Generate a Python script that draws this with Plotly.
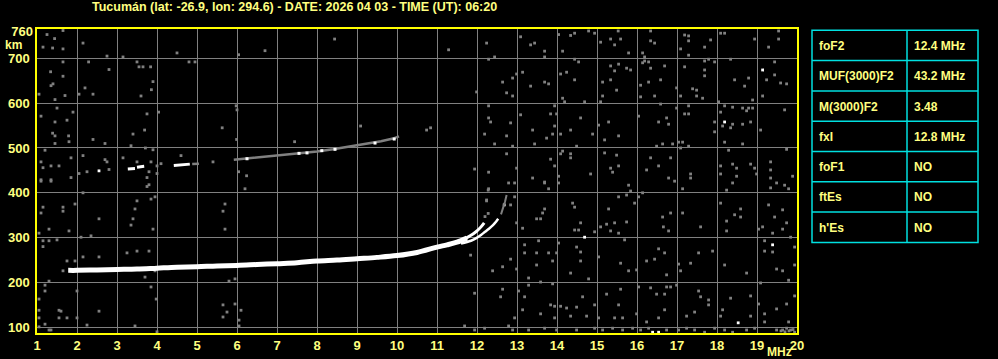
import plotly.graph_objects as go

# ---------------- data ----------------
title_text = "Tucumán (lat: -26.9, lon: 294.6) - DATE: 2026 04 03 - TIME (UT): 06:20"
x_ticks = list(range(1, 21))
y_ticks = [100, 200, 300, 400, 500, 600, 700]
y_top_tick = [760]
x_range = [1, 20]
y_range = [87.3, 765.4]

# F2 ordinary trace (MHz, km)
o_freq = [1.78, 2.0, 2.5, 3.0, 3.5, 4.0, 4.5, 5.0, 5.5, 6.0, 6.5, 7.0, 7.5, 8.0,
          8.5, 9.0, 9.5, 10.0, 10.5, 11.0, 11.25, 11.5, 11.75]
o_h = [227, 227, 228, 229, 230, 232, 234, 235, 237, 238, 240, 242, 244, 248,
       250, 253, 256, 260, 267, 279, 284, 290, 299]
o_cusp_freq = [11.6, 11.75, 11.9, 12.0, 12.1, 12.18]
o_cusp_h = [294, 300, 308, 315, 324, 333]
# F2 extraordinary trace
x_freq = [11.6, 11.85, 12.0, 12.1, 12.2, 12.3, 12.4, 12.48, 12.53]
x_h = [287, 293, 300, 306, 313, 320, 328, 336, 342]
x_tail_freq = [12.6, 12.65, 12.7, 12.74]
x_tail_h = [352, 365, 380, 395]

# second hop (2F) trace
f2_white_freq = [3.27, 3.45, None, 3.5, 3.68, None, 4.42, 4.82]
f2_white_h = [453, 454, None, 457, 459, None, 461, 464]
f2_grey_freq = [4.88, 5.05, None, 5.92, 6.3, 6.8, 7.2, 7.6, 8.0, 8.4, 8.8, 9.2, 9.6, 9.9, 10.05]
f2_grey_h = [464, 465, None, 474, 477, 481, 484, 488, 492, 497, 503, 508, 515, 521, 526]
f2_spot_freq = [6.25, 7.55, 7.75, 8.12, 8.45, 9.45, 9.93]
f2_spot_h = [476, 488, 489, 494, 497, 511, 520]

# scattered noise (MHz, km)
noise_points = [
    (1.25, 753), (1.65, 762), (1.44, 744), (1.15, 725), (1.39, 723), (1.65, 721), (2.15, 734),
    (2.75, 705), (3.15, 703), (4.5, 712), (6.04, 708), (6.7, 717), (8.44, 743),
    (1.65, 692), (2.29, 692), (3.5, 692), (3.55, 681), (3.65, 681), (3.84, 681), (4.8, 692),
    (4.95, 692), (2.8, 675), (1.34, 670), (1.65, 660), (1.4, 643), (1.35, 639), (2.2, 634),
    (3.9, 648), (3.86, 630), (1.7, 617), (1.05, 620), (2.05, 620), (2.4, 620), (3.6, 616),
    (1.45, 608), (5.98, 594), (6.0, 585), (1.5, 589), (1.9, 580), (1.1, 571), (3.75, 576),
    (4.04, 580), (1.75, 562), (1.45, 558), (1.39, 533), (1.45, 527), (1.79, 527), (3.4, 531),
    (3.69, 540), (5.63, 545), (2.4, 519), (1.8, 514), (2.7, 510), (1.45, 510), (3.35, 505),
    (5.99, 519), (7.44, 514), (9.09, 549), (1.2, 495), (3.71, 500), (3.9, 496), (2.15, 483),
    (1.85, 478), (2.7, 474), (2.75, 469), (3.15, 478), (1.1, 469), (1.35, 460), (1.55, 460),
    (1.15, 456), (2.8, 452), (2.05, 443), (2.25, 447), (3.8, 447), (3.5, 469), (3.85, 469),
    (4.0, 460), (4.0, 443), (4.1, 465), (4.6, 483), (5.4, 469), (6.04, 447), (6.24, 438),
    (1.85, 434), (1.1, 429), (1.35, 429), (3.75, 434),
    (11.29, 719), (12.24, 734), (12.29, 698), (12.44, 703), (13.09, 748), (13.34, 730),
    (13.44, 734), (13.69, 716), (13.69, 703), (14.04, 753), (14.14, 716), (14.34, 751),
    (14.44, 756), (14.79, 761), (14.94, 756), (15.09, 736), (15.34, 743), (15.44, 730),
    (15.59, 743), (15.79, 712), (15.53, 761), (16.34, 761), (16.14, 712), (16.19, 703),
    (16.34, 739), (16.44, 734), (17.19, 752), (17.29, 750), (17.29, 739), (17.09, 721),
    (17.29, 707), (17.69, 725), (17.84, 741), (18.09, 756), (18.19, 756), (18.94, 743),
    (19.29, 725), (19.54, 761), (19.54, 743),
    (12.64, 647), (12.74, 623), (12.89, 656), (12.89, 616), (12.99, 665), (13.14, 669),
    (13.34, 638), (13.69, 647), (13.79, 643), (14.09, 665), (14.24, 669), (14.44, 698),
    (14.54, 692), (14.44, 652), (14.14, 611), (14.19, 603), (14.69, 603), (15.09, 603),
    (15.14, 647), (15.14, 616), (15.34, 683), (15.34, 652), (15.44, 672), (15.49, 629),
    (15.54, 687), (15.74, 678), (15.84, 674), (16.14, 690), (16.19, 694), (16.29, 692),
    (16.34, 678), (16.09, 640), (16.09, 614), (16.29, 647), (16.44, 616), (16.59, 652),
    (16.69, 683), (16.99, 634), (17.09, 616), (17.19, 681), (17.39, 632), (17.49, 629),
    (17.49, 616), (17.64, 611), (17.69, 694), (17.69, 674), (17.69, 661), (17.79, 698),
    (17.94, 692), (18.34, 698), (18.44, 652), (18.69, 638), (18.79, 656), (18.89, 607),
    (19.24, 652), (19.14, 616), (19.44, 692), (19.44, 663), (19.59, 645), (19.74, 643),
    (10.74, 540), (10.84, 545), (11.99, 625), (12.29, 594), (12.29, 567), (12.34, 558),
    (12.19, 531), (12.44, 509), (12.74, 527), (12.84, 556), (12.89, 504), (13.09, 574),
    (13.39, 540), (13.44, 509), (13.74, 522), (13.84, 576), (13.89, 531), (13.94, 594),
    (13.94, 549), (13.99, 576), (14.09, 531), (14.34, 540), (14.59, 567), (14.89, 531),
    (15.04, 551), (15.19, 518), (15.29, 558), (15.54, 527), (16.04, 571), (16.54, 558),
    (16.59, 598), (16.74, 567), (16.79, 553), (16.89, 509), (16.64, 509), (16.49, 504),
    (16.99, 589), (17.04, 513), (17.14, 513), (17.29, 594), (17.19, 576), (17.29, 576),
    (17.29, 504), (17.09, 500), (17.94, 558), (17.94, 536), (18.04, 603), (18.09, 580),
    (18.19, 594), (18.14, 549), (18.34, 545), (18.39, 591), (18.39, 553), (18.64, 589),
    (18.64, 553), (18.74, 583), (18.79, 589), (18.84, 558), (18.89, 589), (19.09, 540),
    (19.69, 585), (18.19, 513), (18.64, 509),
    (11.94, 453), (12.29, 446), (12.74, 487), (12.99, 455), (13.39, 433), (13.69, 424),
    (13.84, 475), (13.94, 460), (14.04, 437), (14.09, 487), (14.14, 493), (14.34, 487),
    (14.34, 478), (14.49, 504), (14.84, 442), (15.19, 489), (15.34, 455), (15.39, 446),
    (15.49, 484), (15.54, 460), (16.24, 451), (16.34, 478), (16.54, 460), (16.79, 433),
    (16.84, 478), (17.34, 442), (17.34, 433), (18.09, 460), (18.09, 442), (18.29, 495),
    (18.39, 464), (18.49, 455), (18.49, 437), (18.84, 464), (18.94, 455), (18.99, 442),
    (19.34, 469), (19.34, 451), (19.34, 433), (19.74, 497), (19.89, 437),
    (1.1, 426), (1.35, 426), (3.75, 414), (3.8, 418), (2.15, 400), (3.95, 391), (3.85, 386),
    (3.5, 382), (1.15, 368), (1.65, 368), (1.65, 359), (1.95, 375), (1.1, 355), (3.45, 364),
    (2.55, 342), (3.4, 342), (3.35, 328), (3.9, 319), (1.3, 319), (1.8, 315), (2.35, 304),
    (2.1, 301), (1.05, 310), (5.7, 375), (5.65, 359), (5.7, 319), (6.2, 409),
    (1.15, 293), (1.3, 293), (1.5, 295), (1.15, 280), (3.25, 266), (3.5, 270), (3.8, 270),
    (2.15, 257), (2.55, 257), (1.75, 248), (1.95, 248), (1.65, 226), (3.7, 212), (3.95, 226),
    (1.3, 203), (5.8, 203), (5.95, 208),
    (1.2, 194), (1.2, 181), (3.85, 190), (2.0, 181), (1.05, 163), (3.98, 163), (5.65, 150),
    (5.95, 152), (6.1, 138), (5.75, 134), (5.65, 123), (6.05, 116), (6.05, 103), (2.55, 136),
    (1.55, 138), (1.6, 136), (1.55, 121), (1.75, 121), (2.0, 121), (1.05, 138), (1.05, 121),
    (1.2, 107), (1.05, 101), (2.25, 105), (3.45, 103), (1.3, 94), (1.35, 94), (4.0, 90),
    (12.79, 422), (12.94, 422), (13.69, 422), (14.04, 422), (15.79, 417), (16.94, 426),
    (17.14, 409), (18.39, 422), (18.24, 406), (19.49, 422), (19.34, 411), (19.69, 417),
    (19.79, 409), (13.79, 409), (12.29, 409), (12.94, 391), (12.84, 373), (12.24, 382),
    (15.54, 391), (15.74, 395), (15.84, 404), (16.04, 391), (16.14, 400), (15.94, 377),
    (14.39, 377), (14.44, 368), (13.69, 364), (13.64, 355), (13.49, 342), (13.59, 342),
    (15.29, 364), (16.64, 346), (16.84, 355), (17.14, 355), (18.09, 377), (18.44, 351),
    (18.59, 364), (18.59, 346), (19.29, 373), (19.64, 362), (19.44, 346), (19.74, 333),
    (12.99, 333), (13.14, 321), (14.54, 317), (14.59, 333), (14.44, 317), (14.94, 313),
    (15.09, 324), (15.24, 330), (15.34, 315), (15.44, 333), (15.54, 310), (15.74, 335),
    (15.69, 295), (16.66, 324), (16.79, 315), (17.59, 324), (18.24, 337), (18.24, 315),
    (19.04, 319), (19.14, 324), (19.39, 310), (19.64, 319), (19.84, 301), (12.2, 347),
    (12.28, 354), (12.24, 384), (12.28, 406),
    (11.84, 261), (12.39, 226), (12.64, 235), (12.84, 252), (12.99, 230), (13.19, 284),
    (13.19, 266), (13.49, 266), (13.54, 293), (13.79, 266), (13.89, 248), (13.99, 266),
    (13.49, 239), (14.04, 288), (14.49, 279), (14.59, 268), (14.59, 248), (14.34, 221),
    (14.79, 208), (15.04, 257), (15.59, 243), (15.79, 226), (15.99, 228), (16.24, 248),
    (16.44, 252), (16.54, 275), (16.69, 266), (16.74, 217), (17.04, 241), (17.09, 226),
    (17.34, 243), (17.54, 266), (17.89, 270), (18.19, 239), (18.74, 221), (19.19, 293),
    (19.19, 270), (19.39, 268), (19.49, 230), (19.64, 226), (19.79, 205), (19.94, 279),
    (19.94, 239),
    (13.29, 210), (13.29, 194), (13.59, 201), (13.89, 197), (13.04, 181), (13.19, 168),
    (12.64, 185), (12.59, 168), (11.94, 176), (13.84, 150), (13.94, 147), (14.09, 147),
    (14.24, 143), (14.49, 145), (14.64, 168), (14.94, 150), (15.24, 174), (15.59, 185),
    (15.54, 150), (16.04, 190), (16.34, 188), (16.49, 174), (16.69, 174), (16.74, 190),
    (16.69, 139), (16.84, 190), (16.99, 194), (17.54, 181), (17.79, 161), (17.79, 150),
    (17.59, 168), (18.14, 139), (18.34, 165), (18.84, 170), (19.04, 152), (19.09, 199),
    (19.19, 130), (19.49, 141), (19.74, 152), (19.94, 170), (13.14, 139), (12.94, 121),
    (13.59, 130), (13.94, 121), (14.34, 125), (14.74, 125), (15.04, 121), (15.44, 121),
    (15.64, 121), (15.99, 130), (16.24, 112), (16.54, 121), (17.24, 125), (17.44, 134),
    (18.09, 125), (18.84, 125), (19.19, 112), (19.79, 112), (11.69, 103), (12.79, 103),
    (11.94, 94), (12.19, 98), (12.89, 94), (13.29, 94), (13.69, 98), (13.99, 94), (14.49, 94),
    (14.94, 98), (15.14, 94), (15.39, 98), (15.64, 94), (15.89, 98), (16.09, 94), (16.29, 98),
    (16.74, 94), (17.04, 94), (17.24, 98), (17.44, 94), (17.69, 89), (17.94, 98), (18.19, 94),
    (18.39, 89), (18.74, 94), (18.94, 98), (19.49, 94), (19.64, 94), (19.74, 98), (19.84, 94),
    (19.94, 89), (19.6, 92), (19.7, 90), (19.8, 92), (19.9, 95),
]
white_points = [(2.55, 449), (19.14, 674), (18.19, 558), (14.69, 301), (19.39, 284),
                (16.39, 89), (16.54, 89), (18.53, 110), (12.68, 373)]

table_labels = ["foF2", "MUF(3000)F2", "M(3000)F2", "fxI", "foF1", "ftEs", "h'Es"]
table_values = ["12.4 MHz", "43.2 MHz", "3.48", "12.8 MHz", "NO", "NO", "NO"]

# ---------------- style / layout ----------------
W, H = 998, 359
ML, MR, MT, MB = 37, 201, 29, 26
PW, PH = W - ML - MR, H - MT - MB
TXT = "#ffff80"
AXIS = "#ffff00"
GRID = "#808080"
CYAN = "#00e0e0"
FONT = "Liberation Sans"


def px_x(px):
    return (px - ML) / PW


def px_y(py):
    return (H - MB - py) / PH


fig = go.Figure()

nf = [p[0] for p in noise_points]
nh = [p[1] for p in noise_points]
fig.add_trace(go.Scatter(x=nf, y=nh, mode="markers",
                         marker=dict(symbol="square", size=2.8, color=GRID, line=dict(width=0)),
                         hoverinfo="skip", showlegend=False))
wf = [p[0] for p in white_points]
wh = [p[1] for p in white_points]
fig.add_trace(go.Scatter(x=wf, y=wh, mode="markers",
                         marker=dict(symbol="square", size=2.8, color="white", line=dict(width=0)),
                         hoverinfo="skip", showlegend=False))

# 2F
fig.add_trace(go.Scatter(x=f2_grey_freq, y=f2_grey_h, mode="lines",
                         line=dict(color=GRID, width=2.5), connectgaps=False,
                         hoverinfo="skip", showlegend=False))
fig.add_trace(go.Scatter(x=f2_white_freq, y=f2_white_h, mode="lines",
                         line=dict(color="white", width=3), connectgaps=False,
                         hoverinfo="skip", showlegend=False))
fig.add_trace(go.Scatter(x=f2_spot_freq, y=f2_spot_h, mode="markers",
                         marker=dict(symbol="square", size=3, color="white", line=dict(width=0)),
                         hoverinfo="skip", showlegend=False))

# F2 traces
fig.add_trace(go.Scatter(x=x_tail_freq, y=x_tail_h, mode="lines",
                         line=dict(color=GRID, width=2), hoverinfo="skip", showlegend=False))
fig.add_trace(go.Scatter(x=x_freq, y=x_h, mode="lines",
                         line=dict(color="white", width=2.5, shape="spline"),
                         hoverinfo="skip", showlegend=False))
fig.add_trace(go.Scatter(x=o_cusp_freq, y=o_cusp_h, mode="lines",
                         line=dict(color="white", width=3, shape="spline"),
                         hoverinfo="skip", showlegend=False))
fig.add_trace(go.Scatter(x=o_freq, y=o_h, mode="lines",
                         line=dict(color="white", width=5, shape="spline"),
                         hoverinfo="skip", showlegend=False))
# dummy trace for secondary (760) axis
fig.add_trace(go.Scatter(x=[None], y=[None], yaxis="y2", mode="markers",
                         hoverinfo="skip", showlegend=False))

tick_font = dict(family=FONT, size=13, color=TXT, weight="bold")

fig.update_layout(
    width=W, height=H, autosize=False,
    margin=dict(l=ML, r=MR, t=MT, b=MB, pad=0, autoexpand=False),
    paper_bgcolor="black", plot_bgcolor="black",
    showlegend=False,
    xaxis=dict(range=x_range, tickvals=x_ticks, ticktext=[str(v) for v in x_ticks],
               showgrid=True, gridcolor=GRID, gridwidth=1, zeroline=False,
               showline=True, linecolor=AXIS, linewidth=1.5, mirror=True, automargin=False,
               ticks="", tickfont=tick_font, ticklabelstandoff=0, fixedrange=True),
    yaxis=dict(range=y_range, tickvals=y_ticks, ticktext=[str(v) for v in y_ticks],
               showgrid=True, gridcolor=GRID, gridwidth=1, zeroline=False,
               showline=True, linecolor=AXIS, linewidth=1.5, mirror=True, automargin=False,
               ticks="", tickfont=tick_font, ticklabelstandoff=3, fixedrange=True),
    yaxis2=dict(range=y_range, overlaying="y", side="left", tickvals=y_top_tick,
                ticktext=[str(v) for v in y_top_tick], showgrid=False, zeroline=False,
                showline=False, ticks="", tickfont=tick_font, ticklabelstandoff=3,
                automargin=False, fixedrange=True),
)

ann = []
ann.append(dict(text=title_text, x=px_x(294), y=px_y(7), xref="paper", yref="paper",
                xanchor="center", yanchor="middle", showarrow=False,
                font=dict(family=FONT, size=12.5, color=TXT, weight="bold")))
ann.append(dict(text="km", x=px_x(13), y=px_y(45), xref="paper", yref="paper",
                xanchor="center", yanchor="middle", showarrow=False,
                font=dict(family=FONT, size=12, color=TXT, weight="bold")))
ann.append(dict(text="MHz", x=px_x(779), y=px_y(352), xref="paper", yref="paper",
                xanchor="center", yanchor="middle", showarrow=False,
                font=dict(family=FONT, size=12, color=TXT, weight="bold")))

# table
T_L, T_R, T_MID, T_TOP, ROW_H = 812, 978, 907, 30.3, 30.3
n_rows = len(table_labels)
shapes = []
line = dict(color=CYAN, width=1.5)
T_BOT = T_TOP + ROW_H * n_rows
shapes.append(dict(type="rect", xref="paper", yref="paper", x0=px_x(T_L), x1=px_x(T_R),
                   y0=px_y(T_TOP), y1=px_y(T_BOT), line=line, fillcolor="rgba(0,0,0,0)"))
shapes.append(dict(type="line", xref="paper", yref="paper", x0=px_x(T_MID), x1=px_x(T_MID),
                   y0=px_y(T_TOP), y1=px_y(T_BOT), line=line))
for i in range(1, n_rows):
    yy = T_TOP + ROW_H * i
    shapes.append(dict(type="line", xref="paper", yref="paper", x0=px_x(T_L), x1=px_x(T_R),
                       y0=px_y(yy), y1=px_y(yy), line=line))
for i, (lab, val) in enumerate(zip(table_labels, table_values)):
    yc = T_TOP + ROW_H * (i + 0.5) + 0.5
    ann.append(dict(text=lab, x=px_x(817), y=px_y(yc), xref="paper", yref="paper",
                    xanchor="left", yanchor="middle", showarrow=False,
                    font=dict(family=FONT, size=12, color=TXT, weight="bold")))
    ann.append(dict(text=val, x=px_x(912), y=px_y(yc), xref="paper", yref="paper",
                    xanchor="left", yanchor="middle", showarrow=False,
                    font=dict(family=FONT, size=12, color=TXT, weight="bold")))

fig.update_layout(annotations=ann, shapes=shapes)
fig.write_html("out.html")
